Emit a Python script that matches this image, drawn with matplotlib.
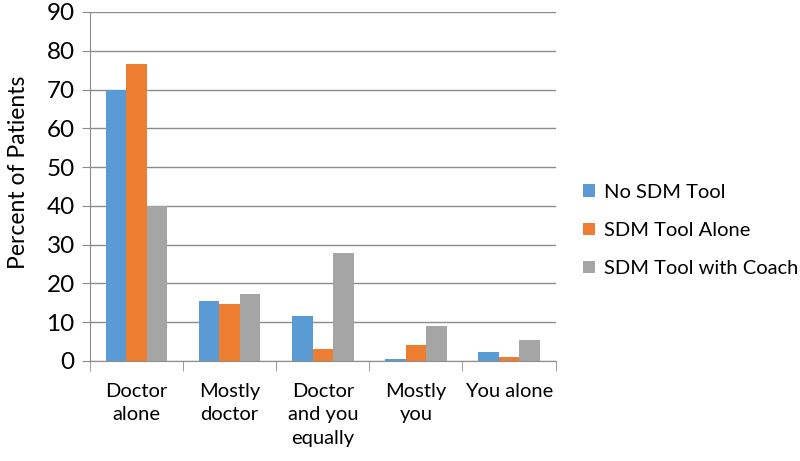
import matplotlib
matplotlib.use("Agg")
import matplotlib.pyplot as plt
import numpy as np

plt.rcParams['font.family'] = ['Lato', 'DejaVu Sans']

# dane
kategorie = ["Doctor\nalone", "Mostly\ndoctor", "Doctor\nand you\nequally", "Mostly\nyou", "You alone"]
serie = ["No SDM Tool", "SDM Tool Alone", "SDM Tool with Coach"]
no_sdm = [70.0, 15.4, 11.6, 0.5, 2.3]
sdm_alone = [76.7, 14.7, 3.1, 4.0, 1.0]
sdm_coach = [40.0, 17.2, 27.9, 9.1, 5.3]
kolory = ["#5B9BD5", "#ED7D31", "#A5A5A5"]

fig = plt.figure(figsize=(8, 4.61), dpi=100)
ax = fig.add_axes([0.1125, 0.217, 0.582, 0.757])

x = np.arange(len(kategorie))
w = 0.22
for i, (dane, kolor, nazwa) in enumerate(zip([no_sdm, sdm_alone, sdm_coach], kolory, serie)):
    ax.bar(x + (i - 1) * w, dane, w, color=kolor, label=nazwa, zorder=3)

ax.set_xlim(-0.5, len(kategorie) - 0.5)
ax.set_ylim(0, 90)
ax.set_yticks(range(0, 91, 10))
ax.grid(axis='y', color='#8c8c8c', linewidth=1.0, zorder=0)

ax.set_xticks(x)
ax.set_xticklabels(kategorie, fontsize=14.5, va='top', linespacing=1.45)
ax.set_xticks(np.arange(-0.5, len(kategorie)), minor=True)
ax.tick_params(axis='x', which='major', length=0, pad=16)
ax.tick_params(axis='x', which='minor', length=7, color='#8c8c8c', direction='out')
ax.tick_params(axis='y', length=6, color='#8c8c8c', labelsize=17.5, pad=5)

for s in ['top', 'right']:
    ax.spines[s].set_visible(False)
for s in ['left', 'bottom']:
    ax.spines[s].set_color('#8c8c8c')

ax.set_ylabel("Percent of Patients", fontsize=16.5)
ax.yaxis.set_label_coords(-0.131, 0.54)

fig.legend(loc='center left', bbox_to_anchor=(0.729, 0.50), frameon=False,
           fontsize=14.5, handlelength=0.6, handleheight=0.6, handletextpad=0.45,
           labelspacing=1.05, borderpad=0, borderaxespad=0)

fig.savefig("out.png", dpi=100)
